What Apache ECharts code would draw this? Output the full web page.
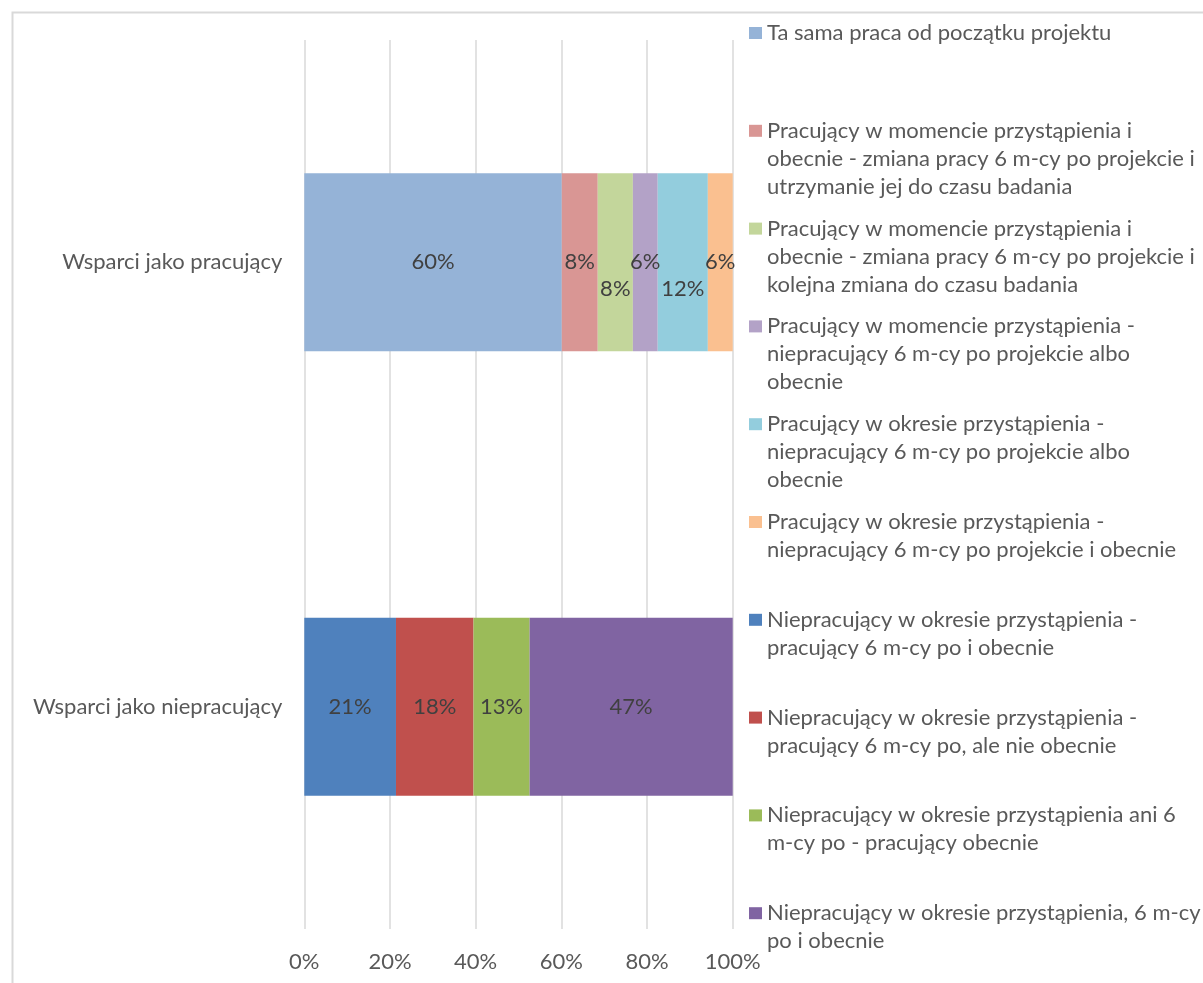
<!DOCTYPE html>
<html>
<head>
<meta charset="utf-8">
<script src="https://cdn.jsdelivr.net/npm/echarts@6/dist/echarts.min.js"></script>
<style>
  html, body { margin: 0; padding: 0; background: #ffffff; }
  #chart { width: 1203px; height: 983px; }
</style>
</head>
<body>
<div id="chart"></div>
<script>
// Row labels of the horizontal bars (top to bottom)
const categories = ['Wsparci jako pracujący', 'Wsparci jako niepracujący'];

// Shares (%) for people supported while working
const workingShares = [60.1, 8.4, 8.2, 5.8, 11.7, 5.8];
// Shares (%) for people supported while not working
const notWorkingShares = [21.4, 18.1, 13.1, 47.4];

// Legend entries, already broken into lines
const workingLegend = [
  ['Ta sama praca od początku projektu'],
  ['Pracujący w momencie przystąpienia i', 'obecnie - zmiana pracy 6 m-cy po projekcie i', 'utrzymanie jej do czasu badania'],
  ['Pracujący w momencie przystąpienia i', 'obecnie - zmiana pracy 6 m-cy po projekcie i', 'kolejna zmiana do czasu badania'],
  ['Pracujący w momencie przystąpienia -', 'niepracujący 6 m-cy po projekcie albo', 'obecnie'],
  ['Pracujący w okresie przystąpienia -', 'niepracujący 6 m-cy po projekcie albo', 'obecnie'],
  ['Pracujący w okresie przystąpienia -', 'niepracujący 6 m-cy po projekcie i obecnie']
];
const notWorkingLegend = [
  ['Niepracujący w okresie przystąpienia -', 'pracujący 6 m-cy po i obecnie'],
  ['Niepracujący w okresie przystąpienia -', 'pracujący 6 m-cy po, ale nie obecnie'],
  ['Niepracujący w okresie przystąpienia ani 6', 'm-cy po - pracujący obecnie'],
  ['Niepracujący w okresie przystąpienia, 6 m-cy', 'po i obecnie']
];

// Axis tick labels
const xTicks = ['0%', '20%', '40%', '60%', '80%', '100%'];

const workingColors = ['#95B3D7', '#D99694', '#C3D69B', '#B3A2C7', '#93CDDD', '#FAC090'];
const notWorkingColors = ['#4F81BD', '#C0504D', '#9BBB59', '#8064A2'];

const FONT = 'Lato';
const FS = 22;
const LH = 28;
const TEXT = '#595959';

const series = [];
const legendDefs = [];

function addSeries(lines, value, catIndex, color, labelOffset) {
  const name = lines.join(' ');
  const data = categories.map((c, i) => (i === catIndex ? value : null));
  series.push({
    name: name,
    type: 'bar',
    stack: 'total',
    barWidth: 178,
    data: data,
    itemStyle: { color: color },
    label: {
      show: true,
      position: 'inside',
      offset: labelOffset || [0, 0],
      color: '#404040',
      fontFamily: FONT,
      fontSize: FS,
      formatter: p => Math.round(p.value) + '%'
    },
    emphasis: { disabled: true }
  });
  legendDefs.push({ name: name, lines: lines });
}

workingShares.forEach((v, i) => {
  const off = (i === 2 || i === 4) ? [0, 27] : [0, 0];
  addSeries(workingLegend[i], v, 0, workingColors[i], off);
});
notWorkingShares.forEach((v, i) => {
  addSeries(notWorkingLegend[i], v, 1, notWorkingColors[i]);
});

// One legend block per entry, spaced evenly. The legend centres its text on
// the marker, so blank lines are put above the text to bring the first line
// level with the marker.
const LEGEND_FIRST = 33;
const LEGEND_STEP = 97.8;
const legends = legendDefs.map((d, i) => {
  const n = d.lines.length;
  const center = LEGEND_FIRST + LEGEND_STEP * i;
  const text = new Array(n - 1).fill('').concat(d.lines).join('\n');
  return {
    left: 749,
    top: center - ((2 * n - 1) * LH) / 2,
    padding: 0,
    orient: 'vertical',
    itemWidth: 13,
    itemHeight: 12,
    selectedMode: false,
    icon: 'rect',
    data: [d.name],
    formatter: () => text,
    textStyle: {
      color: TEXT,
      fontFamily: FONT,
      fontSize: FS,
      lineHeight: LH
    }
  };
});

const chart = echarts.init(document.getElementById('chart'), null, { renderer: 'canvas' });
chart.setOption({
  animation: false,
  backgroundColor: '#ffffff',
  grid: { left: 304.3, right: 470.3, top: 40, bottom: 54 },
  xAxis: {
    type: 'value',
    min: 0,
    max: 100,
    interval: 20,
    axisLine: { show: false },
    axisTick: { show: false },
    splitLine: { show: true, lineStyle: { color: '#D9D9D9', width: 1.5 } },
    axisLabel: {
      color: TEXT,
      fontFamily: FONT,
      fontSize: FS,
      margin: 22,
      formatter: v => xTicks[Math.round(v / 20)]
    }
  },
  yAxis: {
    type: 'category',
    data: categories,
    inverse: true,
    axisLine: { show: false },
    axisTick: { show: false },
    splitLine: { show: false },
    axisLabel: {
      color: TEXT,
      fontFamily: FONT,
      fontSize: FS,
      margin: 22
    }
  },
  legend: legends,
  series: series,
  graphic: [{
    type: 'rect',
    left: 10,
    top: 10,
    shape: { x: 0, y: 0, width: 1300, height: 1100 },
    style: { fill: 'none', stroke: '#D9D9D9', lineWidth: 2 },
    silent: true,
    z: -1
  }]
});
</script>
</body>
</html>
